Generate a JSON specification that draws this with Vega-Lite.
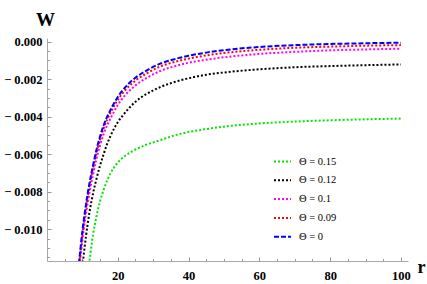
{
  "$schema": "https://vega.github.io/schema/vega-lite/v6.json",
  "width": 361,
  "height": 223,
  "autosize": {"type": "none"},
  "padding": {"left": 47, "top": 38, "right": 19, "bottom": 23},
  "background": "white",
  "config": {"view": {"stroke": null}, "axis": {"grid": false}, "font": "Liberation Serif"},
  "data": {"values": [
    {"s": "Θ = 0.15", "r": 11.7, "W": -0.0121},
    {"s": "Θ = 0.15", "r": 12, "W": -0.0117},
    {"s": "Θ = 0.15", "r": 13, "W": -0.0103},
    {"s": "Θ = 0.15", "r": 14, "W": -0.0093},
    {"s": "Θ = 0.15", "r": 15, "W": -0.0085},
    {"s": "Θ = 0.15", "r": 16, "W": -0.0079},
    {"s": "Θ = 0.15", "r": 17, "W": -0.0074},
    {"s": "Θ = 0.15", "r": 18, "W": -0.0070},
    {"s": "Θ = 0.15", "r": 20, "W": -0.00645},
    {"s": "Θ = 0.15", "r": 22, "W": -0.0061},
    {"s": "Θ = 0.15", "r": 25, "W": -0.00575},
    {"s": "Θ = 0.15", "r": 28, "W": -0.0055},
    {"s": "Θ = 0.15", "r": 32, "W": -0.00525},
    {"s": "Θ = 0.15", "r": 36, "W": -0.0050},
    {"s": "Θ = 0.15", "r": 40, "W": -0.00482},
    {"s": "Θ = 0.15", "r": 45, "W": -0.00466},
    {"s": "Θ = 0.15", "r": 50, "W": -0.00453},
    {"s": "Θ = 0.15", "r": 60, "W": -0.00436},
    {"s": "Θ = 0.15", "r": 70, "W": -0.00426},
    {"s": "Θ = 0.15", "r": 80, "W": -0.00419},
    {"s": "Θ = 0.15", "r": 90, "W": -0.00414},
    {"s": "Θ = 0.15", "r": 100, "W": -0.0041},
    {"s": "Θ = 0.12", "r": 10, "W": -0.0120},
    {"s": "Θ = 0.12", "r": 11, "W": -0.0104},
    {"s": "Θ = 0.12", "r": 12, "W": -0.0091},
    {"s": "Θ = 0.12", "r": 13, "W": -0.0081},
    {"s": "Θ = 0.12", "r": 14, "W": -0.0073},
    {"s": "Θ = 0.12", "r": 15, "W": -0.0066},
    {"s": "Θ = 0.12", "r": 16, "W": -0.0060},
    {"s": "Θ = 0.12", "r": 17, "W": -0.00545},
    {"s": "Θ = 0.12", "r": 18, "W": -0.0050},
    {"s": "Θ = 0.12", "r": 20, "W": -0.0043},
    {"s": "Θ = 0.12", "r": 22, "W": -0.0038},
    {"s": "Θ = 0.12", "r": 25, "W": -0.0032},
    {"s": "Θ = 0.12", "r": 28, "W": -0.0028},
    {"s": "Θ = 0.12", "r": 32, "W": -0.00242},
    {"s": "Θ = 0.12", "r": 36, "W": -0.00215},
    {"s": "Θ = 0.12", "r": 40, "W": -0.00195},
    {"s": "Θ = 0.12", "r": 45, "W": -0.00176},
    {"s": "Θ = 0.12", "r": 50, "W": -0.00164},
    {"s": "Θ = 0.12", "r": 60, "W": -0.00147},
    {"s": "Θ = 0.12", "r": 70, "W": -0.00136},
    {"s": "Θ = 0.12", "r": 80, "W": -0.0013},
    {"s": "Θ = 0.12", "r": 90, "W": -0.00125},
    {"s": "Θ = 0.12", "r": 100, "W": -0.00121},
    {"s": "Θ = 0.1", "r": 9, "W": -0.01235},
    {"s": "Θ = 0.1", "r": 10, "W": -0.0106},
    {"s": "Θ = 0.1", "r": 11, "W": -0.0092},
    {"s": "Θ = 0.1", "r": 12, "W": -0.00805},
    {"s": "Θ = 0.1", "r": 13, "W": -0.0071},
    {"s": "Θ = 0.1", "r": 14, "W": -0.00623},
    {"s": "Θ = 0.1", "r": 15, "W": -0.00552},
    {"s": "Θ = 0.1", "r": 16, "W": -0.00493},
    {"s": "Θ = 0.1", "r": 17, "W": -0.00446},
    {"s": "Θ = 0.1", "r": 18, "W": -0.00407},
    {"s": "Θ = 0.1", "r": 20, "W": -0.00338},
    {"s": "Θ = 0.1", "r": 22, "W": -0.00287},
    {"s": "Θ = 0.1", "r": 25, "W": -0.00233},
    {"s": "Θ = 0.1", "r": 28, "W": -0.00195},
    {"s": "Θ = 0.1", "r": 32, "W": -0.00156},
    {"s": "Θ = 0.1", "r": 36, "W": -0.00131},
    {"s": "Θ = 0.1", "r": 40, "W": -0.00112},
    {"s": "Θ = 0.1", "r": 45, "W": -0.00096},
    {"s": "Θ = 0.1", "r": 50, "W": -0.00083},
    {"s": "Θ = 0.1", "r": 60, "W": -0.00065},
    {"s": "Θ = 0.1", "r": 70, "W": -0.00054},
    {"s": "Θ = 0.1", "r": 80, "W": -0.00046},
    {"s": "Θ = 0.1", "r": 90, "W": -0.00041},
    {"s": "Θ = 0.1", "r": 100, "W": -0.00037},
    {"s": "Θ = 0.09", "r": 8.9, "W": -0.0122},
    {"s": "Θ = 0.09", "r": 9, "W": -0.01203},
    {"s": "Θ = 0.09", "r": 10, "W": -0.01028},
    {"s": "Θ = 0.09", "r": 11, "W": -0.00887},
    {"s": "Θ = 0.09", "r": 12, "W": -0.00772},
    {"s": "Θ = 0.09", "r": 13, "W": -0.00677},
    {"s": "Θ = 0.09", "r": 14, "W": -0.00591},
    {"s": "Θ = 0.09", "r": 15, "W": -0.0052},
    {"s": "Θ = 0.09", "r": 16, "W": -0.00462},
    {"s": "Θ = 0.09", "r": 17, "W": -0.00415},
    {"s": "Θ = 0.09", "r": 18, "W": -0.00377},
    {"s": "Θ = 0.09", "r": 20, "W": -0.0031},
    {"s": "Θ = 0.09", "r": 22, "W": -0.0026},
    {"s": "Θ = 0.09", "r": 25, "W": -0.00207},
    {"s": "Θ = 0.09", "r": 28, "W": -0.0017},
    {"s": "Θ = 0.09", "r": 32, "W": -0.00132},
    {"s": "Θ = 0.09", "r": 36, "W": -0.00108},
    {"s": "Θ = 0.09", "r": 40, "W": -0.0009},
    {"s": "Θ = 0.09", "r": 45, "W": -0.00073},
    {"s": "Θ = 0.09", "r": 50, "W": -0.0006},
    {"s": "Θ = 0.09", "r": 60, "W": -0.00043},
    {"s": "Θ = 0.09", "r": 70, "W": -0.00032},
    {"s": "Θ = 0.09", "r": 80, "W": -0.00026},
    {"s": "Θ = 0.09", "r": 90, "W": -0.00021},
    {"s": "Θ = 0.09", "r": 100, "W": -0.00018},
    {"s": "Θ = 0", "r": 8.8, "W": -0.0122},
    {"s": "Θ = 0", "r": 9, "W": -0.01185},
    {"s": "Θ = 0", "r": 10, "W": -0.0101},
    {"s": "Θ = 0", "r": 11, "W": -0.0087},
    {"s": "Θ = 0", "r": 12, "W": -0.00755},
    {"s": "Θ = 0", "r": 13, "W": -0.0066},
    {"s": "Θ = 0", "r": 14, "W": -0.00575},
    {"s": "Θ = 0", "r": 15, "W": -0.00505},
    {"s": "Θ = 0", "r": 16, "W": -0.00447},
    {"s": "Θ = 0", "r": 17, "W": -0.0040},
    {"s": "Θ = 0", "r": 18, "W": -0.00362},
    {"s": "Θ = 0", "r": 20, "W": -0.00295},
    {"s": "Θ = 0", "r": 22, "W": -0.00245},
    {"s": "Θ = 0", "r": 25, "W": -0.00192},
    {"s": "Θ = 0", "r": 28, "W": -0.00155},
    {"s": "Θ = 0", "r": 32, "W": -0.00117},
    {"s": "Θ = 0", "r": 36, "W": -0.00093},
    {"s": "Θ = 0", "r": 40, "W": -0.00075},
    {"s": "Θ = 0", "r": 45, "W": -0.00058},
    {"s": "Θ = 0", "r": 50, "W": -0.00045},
    {"s": "Θ = 0", "r": 60, "W": -0.00028},
    {"s": "Θ = 0", "r": 70, "W": -0.00018},
    {"s": "Θ = 0", "r": 80, "W": -0.00012},
    {"s": "Θ = 0", "r": 90, "W": -0.00008},
    {"s": "Θ = 0", "r": 100, "W": -0.00005}
  ]},
  "layer": [
    {
      "mark": {"type": "line", "strokeWidth": 2, "interpolate": "monotone", "clip": true},
      "encoding": {
        "x": {
          "field": "r", "type": "quantitative",
          "scale": {"domain": [0, 102], "nice": false, "zero": false},
          "axis": {
            "values": [20, 40, 60, 80, 100], "format": "d",
            "tickSize": -4, "tickColor": "#999999", "domainColor": "#a8a8a8",
            "labelFont": "Liberation Serif", "labelFontWeight": "bold", "labelFontSize": 12.5,
            "labelColor": "black", "labelPadding": 12, "labelFlush": false,
            "title": "r", "titleFont": "Liberation Serif", "titleFontWeight": "bold",
            "titleFontSize": 18, "titleColor": "black", "titleX": 370, "titleY": 11,
            "titleAlign": "left", "titleBaseline": "alphabetic"
          }
        },
        "y": {
          "field": "W", "type": "quantitative",
          "scale": {"domain": [-0.0117, 0.0002], "nice": false, "zero": false},
          "axis": {
            "values": [-0.010, -0.008, -0.006, -0.004, -0.002, 0],
            "labelExpr": "datum.value == 0 ? '0.000' : '−\u00a0' + format(-datum.value, '.3f')",
            "tickSize": -4, "tickColor": "#999999", "domainColor": "#a8a8a8",
            "labelFont": "Liberation Serif", "labelFontWeight": "bold", "labelFontSize": 12.5,
            "labelColor": "black", "labelPadding": 9, "labelFlush": false,
            "title": "W", "titleFont": "Liberation Serif", "titleFontWeight": "bold",
            "titleFontSize": 19, "titleColor": "black", "titleAngle": 0, "titleX": -2, "titleY": -13,
            "titleAlign": "center", "titleBaseline": "alphabetic"
          }
        },
        "color": {
          "field": "s", "type": "nominal",
          "scale": {"domain": ["Θ = 0.15", "Θ = 0.12", "Θ = 0.1", "Θ = 0.09", "Θ = 0"],
                    "range": ["#00e600", "#000000", "#ff00ff", "#ff0000", "#0000ff"]},
          "legend": {
            "orient": "none", "legendX": 226, "legendY": 114, "title": null, "padding": 0,
            "symbolType": "stroke", "symbolSize": 289, "symbolStrokeWidth": 2,
            "labelFont": "Liberation Serif", "labelFontSize": 10.5, "labelColor": "black",
            "labelOffset": 7, "rowPadding": 3.8
          }
        },
        "strokeDash": {
          "field": "s", "type": "nominal",
          "scale": {"domain": ["Θ = 0.15", "Θ = 0.12", "Θ = 0.1", "Θ = 0.09", "Θ = 0"],
                    "range": [[2, 2], [2, 2], [2, 2], [2, 2], [5, 2]]},
          "legend": {
            "orient": "none", "legendX": 226, "legendY": 114, "title": null, "padding": 0,
            "symbolType": "stroke", "symbolSize": 289, "symbolStrokeWidth": 2,
            "labelFont": "Liberation Serif", "labelFontSize": 10.5, "labelColor": "black",
            "labelOffset": 7, "rowPadding": 3.8
          }
        }
      }
    },
    {
      "mark": {"type": "point", "opacity": 0},
      "encoding": {
        "x": {
          "field": "r", "type": "quantitative",
          "axis": {"orient": "bottom", "values": [5,10,15,20,25,30,35,40,45,50,55,60,65,70,75,80,85,90,95,100],
                   "labels": false, "domain": false, "tickSize": -2.5, "tickColor": "#999999", "title": null}
        },
        "y": {
          "field": "W", "type": "quantitative",
          "axis": {"orient": "left", "values": [-0.0115,-0.011,-0.0105,-0.010,-0.0095,-0.009,-0.0085,-0.008,-0.0075,-0.007,-0.0065,-0.006,-0.0055,-0.005,-0.0045,-0.004,-0.0035,-0.003,-0.0025,-0.002,-0.0015,-0.001,-0.0005,0],
                   "labels": false, "domain": false, "tickSize": -2.5, "tickColor": "#999999", "title": null}
        }
      }
    }
  ],
  "resolve": {"axis": {"x": "independent", "y": "independent"}}
}
